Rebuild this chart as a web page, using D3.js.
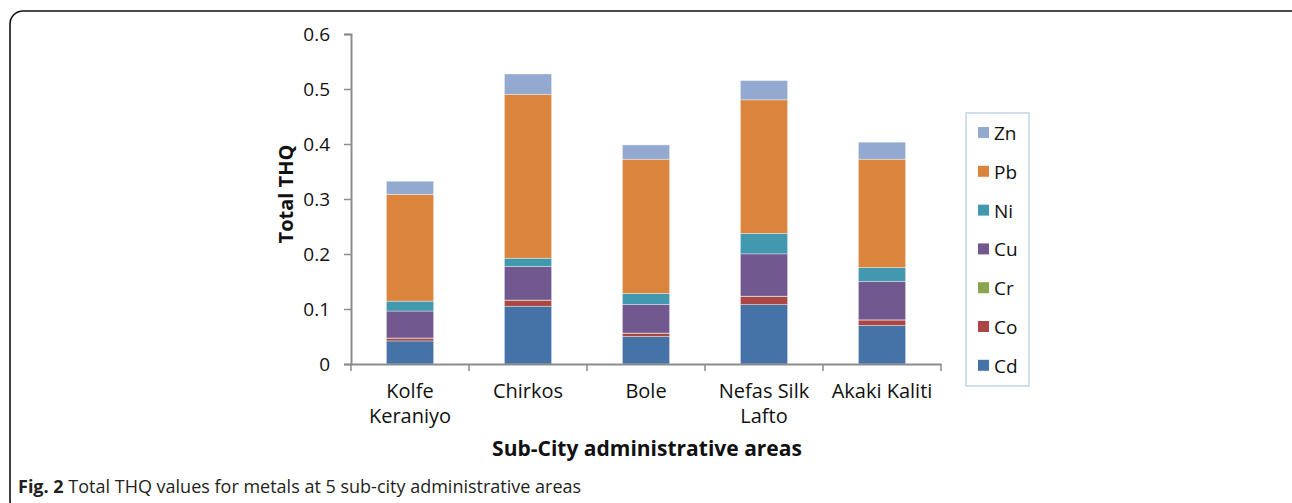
<!DOCTYPE html>
<html>
<head>
<meta charset="utf-8">
<script src="https://cdn.jsdelivr.net/npm/d3@7"></script>
<style>
    body { margin: 0; background: #fff; }
    svg { display: block; font-family: "Open Sans", sans-serif; }
</style>
</head>
<body>
<div id="chart"></div>
<script>
// sub-city areas, tick labels split over lines like the original
var categories = ["Kolfe Keraniyo", "Chirkos", "Bole", "Nefas Silk Lafto", "Akaki Kaliti"];
var categoryLines = [["Kolfe", "Keraniyo"], ["Chirkos"], ["Bole"], ["Nefas Silk", "Lafto"], ["Akaki Kaliti"]];

// THQ per metal (stack order bottom -> top)
var metals = ["Cd", "Co", "Cr", "Cu", "Ni", "Pb", "Zn"];
var cd = [0.042, 0.105, 0.050, 0.108, 0.070];
var co = [0.005, 0.011, 0.006, 0.015, 0.010];
var cr = [0.0003, 0.0003, 0.0003, 0.0003, 0.0003];
var cu = [0.049, 0.061, 0.052, 0.077, 0.070];
var ni = [0.018, 0.015, 0.020, 0.037, 0.025];
var pb = [0.194, 0.298, 0.244, 0.243, 0.197];
var zn = [0.024, 0.037, 0.026, 0.035, 0.031];

var yTicks = [0, 0.1, 0.2, 0.3, 0.4, 0.5, 0.6];
var yTickLabels = ["0", "0.1", "0.2", "0.3", "0.4", "0.5", "0.6"];

var colors = ["#4572A7", "#AA4643", "#89A54E", "#71588F", "#4198AF", "#DB843D", "#93A9CF"];

var width = 1292,
    height = 503;

var table = categories.map(function(c, i) {
    return {cat: c, Cd: cd[i], Co: co[i], Cr: cr[i], Cu: cu[i], Ni: ni[i], Pb: pb[i], Zn: zn[i]};
});

var svg = d3.select("#chart").append("svg")
    .attr("width", width)
    .attr("height", height);

// frame round the figure
svg.append("rect")
    .attr("x", 10).attr("y", 11)
    .attr("width", 1295).attr("height", 503)
    .attr("rx", 13).attr("ry", 13)
    .attr("fill", "none")
    .attr("stroke", "#111")
    .attr("stroke-width", 1.6);

var x = d3.scaleBand()
    .domain(categories)
    .range([351, 941]);

var y = d3.scaleLinear()
    .domain([0, 0.6])
    .range([364, 34]);

var color = d3.scaleOrdinal().domain(metals).range(colors);

var series = d3.stack().keys(metals)(table);

var barW = x.bandwidth() * 0.4;

svg.append("g")
    .selectAll("g")
    .data(series)
    .enter().append("g")
    .attr("fill", function(d) { return color(d.key); })
    .selectAll("rect")
    .data(function(d) { return d; })
    .enter().append("rect")
    .attr("x", function(d) { return x(d.data.cat) + (x.bandwidth() - barW) / 2; })
    .attr("y", function(d) { return y(d[1]); })
    .attr("width", barW)
    .attr("height", function(d) { return y(d[0]) - y(d[1]); })
    .attr("stroke", "#fff")
    .attr("stroke-opacity", 0.45)
    .attr("stroke-width", 0.8);

// y axis
var yAxis = svg.append("g")
    .attr("transform", "translate(351,0)")
    .call(d3.axisLeft(y)
        .tickValues(yTicks)
        .tickFormat(function(d, i) { return yTickLabels[i]; })
        .tickSize(7)
        .tickPadding(14));

yAxis.select(".domain").attr("stroke", "#8c8c8c").attr("stroke-width", 2);
yAxis.selectAll(".tick line").attr("stroke", "#8c8c8c").attr("stroke-width", 1.5);
yAxis.selectAll(".tick text")
    .attr("font-family", "Open Sans, sans-serif")
    .attr("font-size", 19)
    .attr("fill", "#111");

// x axis: line with ticks on the category boundaries
var xAxis = svg.append("g")
    .attr("transform", "translate(0,364)")
    .call(d3.axisBottom(x).tickSize(0).tickFormat(""));

xAxis.select(".domain").attr("stroke", "#8c8c8c").attr("stroke-width", 2);

var bounds = categories.map(function(c) { return x(c); }).concat([x.range()[1]]);
xAxis.selectAll(".bound")
    .data(bounds)
    .enter().append("line")
    .attr("class", "bound")
    .attr("x1", function(d) { return d; })
    .attr("x2", function(d) { return d; })
    .attr("y1", 0)
    .attr("y2", 7)
    .attr("stroke", "#8c8c8c")
    .attr("stroke-width", 1.5);

var labels = svg.append("g")
    .selectAll("text")
    .data(categories)
    .enter().append("text")
    .attr("x", function(d) { return x(d) + x.bandwidth() / 2; })
    .attr("y", 398)
    .attr("text-anchor", "middle")
    .attr("font-size", 20)
    .attr("fill", "#111");

labels.selectAll("tspan")
    .data(function(d, i) { return categoryLines[i]; })
    .enter().append("tspan")
    .attr("x", function() { return d3.select(this.parentNode).attr("x"); })
    .attr("dy", function(d, i) { return i ? 25 : 0; })
    .text(function(d) { return d; });

// axis titles
svg.append("text")
    .attr("x", 647)
    .attr("y", 456)
    .attr("text-anchor", "middle")
    .attr("font-size", 21)
    .attr("font-weight", "bold")
    .attr("fill", "#111")
    .text("Sub-City administrative areas");

svg.append("text")
    .attr("transform", "translate(293,194) rotate(-90)")
    .attr("text-anchor", "middle")
    .attr("font-size", 20)
    .attr("font-weight", "bold")
    .attr("fill", "#111")
    .text("Total THQ");

// legend, top entry is the top of the stack
var legendKeys = metals.slice().reverse();

var legend = svg.append("g");

legend.append("rect")
    .attr("x", 966).attr("y", 113)
    .attr("width", 63).attr("height", 273)
    .attr("fill", "#fff")
    .attr("stroke", "#c5d3e8")
    .attr("stroke-width", 1.5);

var items = legend.selectAll(".item")
    .data(legendKeys)
    .enter().append("g")
    .attr("class", "item")
    .attr("transform", function(d, i) { return "translate(978," + (133 + i * 38.8) + ")"; });

items.append("rect")
    .attr("x", 0).attr("y", -6)
    .attr("width", 11).attr("height", 11)
    .attr("fill", function(d) { return color(d); });

items.append("text")
    .attr("x", 16)
    .attr("y", 7)
    .attr("font-size", 19)
    .attr("fill", "#111")
    .text(function(d) { return d; });

// caption
var caption = svg.append("text")
    .attr("x", 18)
    .attr("y", 493)
    .attr("font-size", 18)
    .attr("fill", "#231f20");

caption.append("tspan")
    .attr("font-weight", "bold")
    .text("Fig. 2");

caption.append("tspan")
    .text(" Total THQ values for metals at 5 sub-city administrative areas");
</script>
</body>
</html>
